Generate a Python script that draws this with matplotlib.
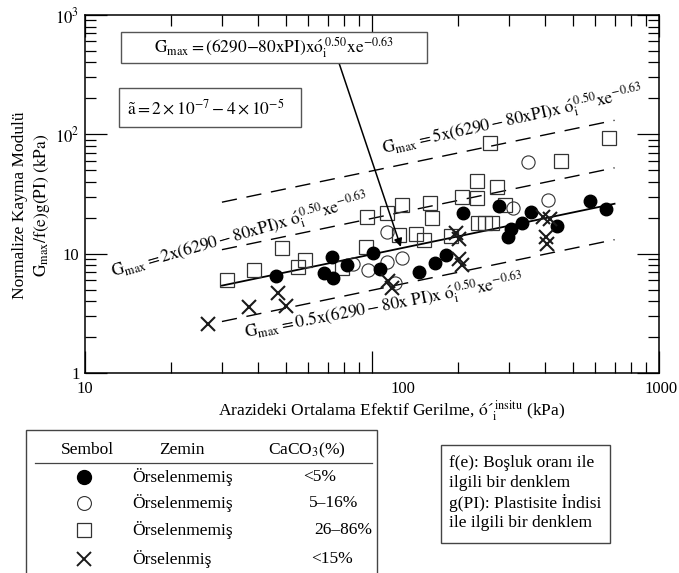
import matplotlib
matplotlib.use("Agg")
import matplotlib.pyplot as plt
from matplotlib.patches import Rectangle
from matplotlib.lines import Line2D

plt.rcParams['font.family'] = ['Liberation Serif', 'DejaVu Serif']
plt.rcParams['mathtext.fontset'] = 'stix'

# ---------------- data ----------------
filled_x = [46.3, 72.5, 68.0, 73.1, 81.8, 100.8, 106.6, 145.8, 165.8, 181.1,
            207.5, 277, 298, 305, 333, 358, 441, 575, 654]
filled_y = [6.44, 9.38, 6.89, 6.20, 8.04, 10.1, 7.51, 7.03, 8.36, 9.75,
            21.9, 25.1, 13.8, 16.0, 18.1, 22.4, 17.1, 27.7, 23.7]

open_x = [85.9, 96.8, 112.8, 127.2, 120.3, 112.8, 310, 350, 410]
open_y = [8.2, 7.3, 8.52, 9.2, 5.68, 15.2, 24.2, 58.7, 28.2]

square_x = [31.2, 38.8, 48.6, 55.2, 58.4, 78.6, 95.3, 96.1, 112.8, 127.2,
            159.3, 161.9, 124.2, 142.3, 151.8, 188.5, 205.9, 232.3, 232.3,
            272.6, 257.7, 455.6, 669.6, 234, 247.6, 262, 290.7]
square_y = [5.96, 7.30, 11.2, 7.74, 8.9, 7.59, 11.4, 20.3, 21.9, 25.6,
            26.6, 19.9, 14.3, 14.6, 13.0, 14.1, 29.9, 29.3, 40.5,
            36.2, 83.9, 59.7, 93.3, 18.1, 18.1, 18.1, 25.6]

cross_x = [26.8, 37.3, 47.0, 50.2, 113.7, 117.4, 196.2, 201.0, 201.0, 205.9,
           394, 417, 404, 407]
cross_y = [2.57, 3.58, 4.68, 3.65, 5.9, 5.16, 14.9, 13.3, 9.03, 8.04,
           20.3, 19.6, 13.8, 12.1]

line_x = [30, 700]
line_y = [5.4, 26.2]
band_factors = [5, 2, 0.5]

x_tick_values = [10, 100, 1000]
x_tick_labels = ['10', '100', '1000']
y_tick_values = [1, 10, 100, 1000]
y_tick_labels = ['1', '10', r'$10^2$', r'$10^3$']

legend_symbols = ['filled', 'open', 'square', 'cross']
legend_soil = ['Örselenmemiş', 'Örselenmemiş', 'Örselenmemiş', 'Örselenmiş']
legend_caco3 = ['<5%', '5–16%', '26–86%', '<15%']

W, H = 679, 573
fig = plt.figure(figsize=(W / 100, H / 100), dpi=100)


def fx(px):
    return px / W


def fy(py):
    return 1 - py / H


ax = fig.add_axes([fx(85), fy(373), fx(659) - fx(85), fy(15) - fy(373)])
ax.set_xscale('log')
ax.set_yscale('log')
ax.set_xlim(10, 1000)
ax.set_ylim(1, 1000)

# reference lines
ax.plot(line_x, line_y, color='black', lw=1.3, zorder=2)
for f in band_factors:
    ax.plot(line_x, [f * v for v in line_y], color='black', lw=1.0,
            dashes=(11, 7), zorder=2)

# data
ax.plot(square_x, square_y, ls='none', marker='s', ms=9.5, mfc='none',
        mec='#333333', mew=0.9, zorder=3)
ax.plot(open_x, open_y, ls='none', marker='o', ms=9.5, mfc='none',
        mec='#333333', mew=0.8, zorder=3)
ax.plot(filled_x, filled_y, ls='none', marker='o', ms=9, mfc='black',
        mec='black', zorder=4)
ax.plot(cross_x, cross_y, ls='none', marker='x', ms=10, mew=1.5,
        color='#1a1a1a', zorder=5)

# ticks
for sp in ax.spines.values():
    sp.set_linewidth(1.1)
ax.tick_params(which='both', direction='in', top=True, right=True, width=0.9)
ax.tick_params(which='major', length=16)
ax.tick_params(which='minor', length=8)
ax.set_xticks(x_tick_values)
ax.set_xticklabels([])
ax.set_xticks([v * m for v in [10, 100] for m in range(2, 10)], minor=True)
ax.xaxis.set_minor_formatter(plt.NullFormatter())
ax.set_yticks(y_tick_values)
ax.set_yticklabels(y_tick_labels, fontsize=12)
ax.set_yticks([v * m for v in [1, 10, 100] for m in range(2, 10)], minor=True)
ax.yaxis.set_minor_formatter(plt.NullFormatter())
ax.tick_params(axis='y', which='major', pad=4)

# x tick labels (placed as in the reference, "100" sits right of its tick)
x_label_offsets = [0, 31, 2]
for v, lab, off in zip(x_tick_values, x_tick_labels, x_label_offsets):
    ax.annotate(lab, xy=(v, 0), xycoords=('data', 'axes fraction'),
                xytext=(off * 0.72, -6), textcoords='offset points',
                ha='center', va='top', fontsize=12, annotation_clip=False)

# axis labels
fig.text(fx(392), fy(411), r'Arazideki Ortalama Efektif Gerilme, $\mathrm{ó´}^{\,\mathrm{insitu}}_{\mathrm{i}}$ (kPa)',
         ha='center', va='center', fontsize=12.5)
fig.text(fx(20), fy(205), 'Normalize Kayma Modulü', rotation=90,
         ha='center', va='center', fontsize=12.5)
fig.text(fx(41), fy(205), r'$\mathrm{G_{max}/f(e)g(PI)\ (kPa)}$', rotation=90,
         ha='center', va='center', fontsize=12.5)

# formula boxes
fig.add_artist(Rectangle((fx(121), fy(63)), fx(427) - fx(121), fy(32) - fy(63),
                         transform=fig.transFigure, fill=True, fc='white',
                         ec='#555555', lw=1.0, zorder=6))
fig.text(fx(274), fy(48), r'$\mathrm{G_{max}=(6290{-}80xPI)x\acute{o}^{\,0.50}_{i}xe^{-0.63}}$',
         ha='center', va='center', fontsize=12.5, zorder=7)
fig.add_artist(Rectangle((fx(119), fy(127)), fx(301) - fx(119), fy(88) - fy(127),
                         transform=fig.transFigure, fill=True, fc='white',
                         ec='#555555', lw=1.0, zorder=6))
fig.text(fx(206), fy(108), r'$\tilde{\mathrm{a}}=2\times10^{-7}-4\times10^{-5}$',
         ha='center', va='center', fontsize=12.5, zorder=7)

# arrow from formula box
ax.annotate('', xy=(126, 11.4), xycoords='data',
            xytext=(fx(339), fy(63)), textcoords='figure fraction',
            arrowprops=dict(arrowstyle='-|>', color='black', lw=1.1,
                            mutation_scale=12, shrinkA=0, shrinkB=0), zorder=6)

# rotated band labels
ax.text(0.744, 0.707, r'$\mathrm{G_{max}=5x(6290-80xPI)x\ \acute{o}^{\,0.50}_{i}xe^{-0.63}}$',
        transform=ax.transAxes, rotation=12.5, ha='center', va='center',
        fontsize=12.5, rotation_mode='anchor')
ax.text(0.270, 0.385, r'$\mathrm{G_{max}=2x(6290-80xPI)x\ \acute{o}^{\,0.50}_{i}xe^{-0.63}}$',
        transform=ax.transAxes, rotation=16, ha='center', va='center',
        fontsize=12.5, rotation_mode='anchor')
ax.text(0.521, 0.187, r'$\mathrm{G_{max}=0.5x(6290-80x\ PI)x\ \acute{o}^{\,0.50}_{i}xe^{-0.63}}$',
        transform=ax.transAxes, rotation=10.8, ha='center', va='center',
        fontsize=12.5, rotation_mode='anchor')

# ---------------- legend table ----------------
fig.add_artist(Rectangle((fx(26), fy(580)), fx(377) - fx(26), fy(430) - fy(580),
                         transform=fig.transFigure, fill=False, ec='#444444', lw=1.0))
fig.add_artist(Line2D([fx(35), fx(372)], [fy(463), fy(463)],
                      transform=fig.transFigure, color='#444444', lw=0.9))
fig.text(fx(87), fy(450), 'Sembol', ha='center', va='center', fontsize=12.5)
fig.text(fx(182), fy(450), 'Zemin', ha='center', va='center', fontsize=12.5)
fig.text(fx(307), fy(450), r'CaCO$_3$(%)', ha='center', va='center', fontsize=12.5)

sym_style = {
    'filled': dict(marker='o', ms=10, mfc='black', mec='black'),
    'open': dict(marker='o', ms=10, mfc='none', mec='#333333', mew=0.8),
    'square': dict(marker='s', ms=9.5, mfc='none', mec='#333333', mew=0.9),
    'cross': dict(marker='x', ms=10, mew=1.4, color='#1a1a1a'),
}
row_y = [477, 503, 530, 559]
val_x = [303, 309, 314, 311]
for s, soil, cc, ry, vx in zip(legend_symbols, legend_soil, legend_caco3, row_y, val_x):
    fig.add_artist(Line2D([fx(84)], [fy(ry)], transform=fig.transFigure,
                          ls='none', **sym_style[s]))
    fig.text(fx(132), fy(ry), soil, ha='left', va='center', fontsize=12.5)
    fig.text(fx(vx), fy(ry), cc, ha='left', va='center', fontsize=12.5)

# note box
fig.add_artist(Rectangle((fx(441), fy(543)), fx(610) - fx(441), fy(445) - fy(543),
                         transform=fig.transFigure, fill=False, ec='#444444', lw=1.0))
note_lines = ['f(e): Boşluk oranı ile', 'ilgili bir denklem',
              'g(PI): Plastisite İndisi', 'ile ilgili bir denklem']
for i, t in enumerate(note_lines):
    fig.text(fx(449), fy(463 + 20 * i), t, ha='left', va='center', fontsize=12.5)

fig.savefig('out.png', dpi=100)
